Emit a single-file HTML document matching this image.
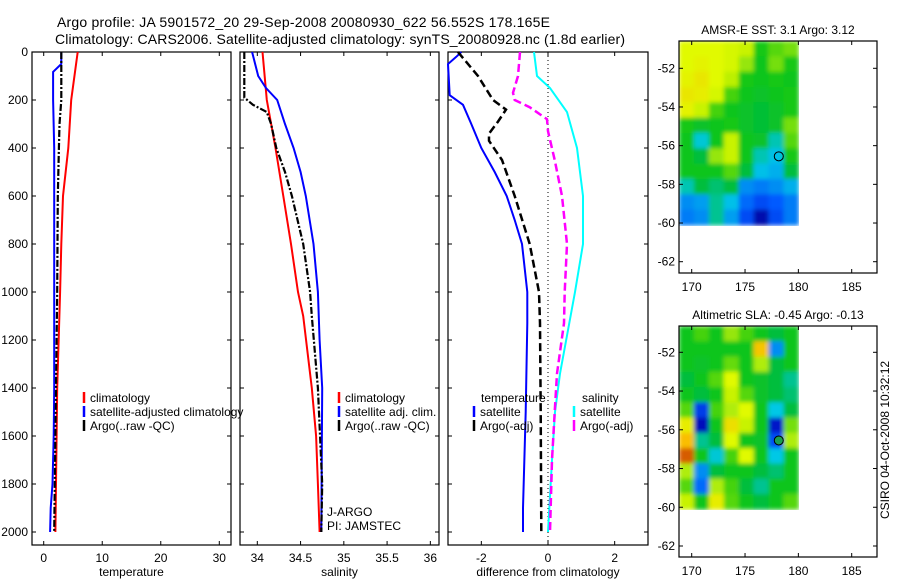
<!DOCTYPE html>
<html><head><meta charset="utf-8"><style>
html,body{margin:0;padding:0;background:#fff;}
svg{display:block;font-family:"Liberation Sans",sans-serif;}
</style></head><body>
<svg id="fig" width="900" height="580" xmlns="http://www.w3.org/2000/svg">
<defs>
<filter id="soft" x="0" y="0" width="1" height="1"><feGaussianBlur stdDeviation="2" edgeMode="duplicate"/></filter>
<clipPath id="clipSst"><rect x="679" y="41" width="120" height="185"/></clipPath>
<clipPath id="clipSla"><rect x="679" y="326" width="120" height="184"/></clipPath>
</defs>
<text x="57" y="27" font-size="14" textLength="493">Argo profile: JA 5901572_20 29-Sep-2008 20080930_622 56.552S 178.165E</text>
<text x="55" y="44" font-size="14" textLength="570">Climatology: CARS2006. Satellite-adjusted climatology: synTS_20080928.nc (1.8d earlier)</text>
</svg>
<script>
// ---------- data ----------
const depthTicks=[0,200,400,600,800,1000,1200,1400,1600,1800,2000];
const tempTicks=[0,10,20,30];
const salTicks=[34,34.5,35,35.5,36];
const diffTicks=[-2,0,2];
const lonTicks=[170,175,180,185];
const latTicks=[-52,-54,-56,-58,-60,-62];

const tClimD=[0,200,400,600,800,1000,1400,2000];
const tClimV=[5.8,4.7,4.2,3.3,3.0,2.8,2.3,2.0];
const tSatD=[0,50,83,200,400,1000,1400,1600,1800,1900,2000];
const tSatV=[3.0,3.0,1.6,1.6,1.8,1.8,1.8,1.7,1.5,1.2,1.1];
const tArgD=[0,200,300,400,600,1000,1400,2000];
const tArgV=[3.0,3.0,2.7,2.6,2.4,2.3,2.1,1.8];

const sClimD=[0,200,400,600,800,1000,1100,1400,1600,1800,2000];
const sClimV=[34.06,34.11,34.21,34.30,34.39,34.47,34.53,34.63,34.68,34.70,34.72];
const sSatD=[0,100,150,200,300,400,500,600,800,1000,1200,1400,2000];
const sSatV=[33.94,34.01,34.10,34.23,34.32,34.42,34.50,34.56,34.65,34.70,34.72,34.75,34.74];
const sArgD=[0,190,220,250,300,400,500,600,800,1000,1100,1400,1800,2000];
const sArgV=[33.85,33.85,33.95,34.11,34.16,34.22,34.32,34.40,34.53,34.61,34.63,34.70,34.75,34.74];

const dTSatD=[0,20,50,180,220,300,400,500,600,700,800,1000,1130,1500,1900,2000];
const dTSatV=[-2.6,-2.75,-3.0,-2.95,-2.55,-2.3,-2.0,-1.6,-1.24,-1.0,-0.78,-0.62,-0.62,-0.67,-0.75,-0.75];
const dTArgD=[0,100,200,240,290,340,370,450,600,800,1000,1130,1500,2000];
const dTArgV=[-2.7,-2.1,-1.65,-1.26,-1.5,-1.77,-1.77,-1.38,-1.0,-0.55,-0.27,-0.24,-0.22,-0.2];
const dSArgD=[0,100,170,200,230,280,330,450,600,800,1000,1130,1340,1500,1700,2000];
const dSArgV=[-0.84,-0.9,-1.05,-1.0,-0.55,-0.03,0,0.2,0.42,0.57,0.5,0.48,0.27,0.2,0.12,0.06];
const dSSatD=[0,100,150,250,400,600,800,1000,1340,1500,1700,2000];
const dSSatV=[-0.42,-0.33,0.06,0.57,0.87,1.05,1.05,0.81,0.36,0.21,0.12,0.0];

const sstGrid=[
[.66,.66,.66,.65,.64,.52,.56,.58],
[.66,.67,.66,.65,.6,.5,.58,.52],
[.67,.69,.66,.63,.52,.5,.52,.5],
[.69,.68,.65,.55,.5,.48,.5,.52],
[.67,.64,.55,.5,.48,.46,.48,.52],
[.52,.48,.5,.52,.48,.46,.48,.58],
[.5,.36,.5,.64,.5,.48,.38,.56],
[.5,.45,.6,.64,.5,.38,.34,.52],
[.5,.5,.5,.56,.45,.34,.32,.45],
[.38,.45,.42,.45,.28,.26,.28,.32],
[.28,.3,.4,.34,.24,.2,.22,.26],
[.26,.28,.4,.3,.2,.08,.2,.26]];
const slaGrid=[
[.5,.55,.5,.6,.55,.5,.45,.5],
[.5,.5,.5,.5,.5,.74,.28,.5],
[.5,.48,.5,.57,.5,.62,.45,.5],
[.45,.5,.56,.66,.5,.48,.45,.4],
[.5,.45,.5,.64,.56,.48,.45,.42],
[.56,.18,.55,.62,.66,.5,.35,.45],
[.68,.1,.5,.7,.64,.5,.12,.58],
[.75,.4,.45,.66,.5,.48,.2,.62],
[.84,.5,.36,.55,.66,.5,.35,.5],
[.62,.28,.45,.5,.5,.45,.42,.5],
[.56,.24,.62,.55,.45,.4,.5,.5],
[.64,.5,.68,.56,.5,.45,.5,.56]];
const floatLon=178.165, floatLat=-56.552;

// ---------- helpers ----------
const svg=document.getElementById('fig');
const NS='http://www.w3.org/2000/svg';
function mk(tag,at,parent){const e=document.createElementNS(NS,tag);for(const k in at)e.setAttribute(k,at[k]);(parent||svg).appendChild(e);return e;}
function txt(x,y,s,size,anchor,name){const t=mk('text',{x:x,y:y,'font-size':size,'text-anchor':anchor||'start'});t.textContent=s;


return t;}
function lin(x0,x1,v0,v1){return v=>x0+(v-v0)*(x1-x0)/(v1-v0);}
const yD=lin(52,532,0,2000);

function panel(name,L,R,xmin,xmax,ticks,fmt,xlabel,showY){
  const g=mk('g',{});
  
  
  const xs=lin(L,R,xmin,xmax);
  mk('rect',{x:L,y:52,width:R-L,height:493,fill:'none',stroke:'#000','stroke-width':1.2},g);
  ticks.forEach(t=>{const x=xs(t);
    mk('line',{x1:x,x2:x,y1:545,y2:541,stroke:'#000'},g);
    mk('line',{x1:x,x2:x,y1:52,y2:56,stroke:'#000'},g);
    txt(x,562,fmt(t),12,'middle','x-tick-label');});
  depthTicks.forEach(d=>{const y=yD(d);
    mk('line',{x1:L,x2:L+4,y1:y,y2:y,stroke:'#000'},g);
    mk('line',{x1:R,x2:R-4,y1:y,y2:y,stroke:'#000'},g);
    if(showY) txt(L-4,y+4,String(d),12,'end','y-tick-label');});
  txt((L+R)/2,576,xlabel,12,'middle','x-axis-title');
  return xs;
}
function series(xs,D,V,color,w,dash,name,xmin){
  let d='';D.forEach((dd,i)=>{d+=(i?'L':'M')+xs(Math.max(V[i],xmin)).toFixed(1)+','+yD(dd).toFixed(1);});
  const p=mk('path',{d:d,fill:'none',stroke:color,'stroke-width':w});
  if(dash)p.setAttribute('stroke-dasharray',dash);
  
  
}
function legendEntry(x,y,color,label,name){
  mk('line',{x1:x,x2:x,y1:y-6,y2:y+5,stroke:color,'stroke-width':2.5});
  txt(x+6,y+4,label,12,'start',name);
}

// panel 1: temperature
const xT=panel('temperature-panel',32,231,-2,32,tempTicks,String,'temperature',true);
series(xT,tClimD,tClimV,'#f00',2,null,'temp-climatology-line',-2);
series(xT,tSatD,tSatV,'#00f',2,null,'temp-satellite-line',-2);
series(xT,tArgD,tArgV,'#000',2.2,'7,2,2,2','temp-argo-line',-2);
legendEntry(84,398,'#f00','climatology','legend-climatology');
legendEntry(84,412,'#00f','satellite-adjusted climatology','legend-satellite');
legendEntry(84,426,'#000','Argo(..raw -QC)','legend-argo');
// panel 2: salinity
const xS=panel('salinity-panel',240,439,33.8,36.1,salTicks,String,'salinity',false);
series(xS,sClimD,sClimV,'#f00',2,null,'sal-climatology-line',33.8);
series(xS,sSatD,sSatV,'#00f',2,null,'sal-satellite-line',33.8);
series(xS,sArgD,sArgV,'#000',2.2,'7,2,2,2','sal-argo-line',33.8);
legendEntry(339,398,'#f00','climatology','legend-sal-climatology');
legendEntry(339,412,'#00f','satellite adj. clim.','legend-sal-satellite');
legendEntry(339,426,'#000','Argo(..raw -QC)','legend-sal-argo');
txt(327,516,'J-ARGO',12,'start','data-centre-label');
txt(327,530,'PI: JAMSTEC',12,'start','pi-label');
// panel 3: differences
const xDf=panel('difference-panel',448,648,-3,3,diffTicks,String,'difference from climatology',false);
mk('line',{x1:xDf(0),x2:xDf(0),y1:52,y2:545,stroke:'#000','stroke-width':1,'stroke-dasharray':'1,3'});
series(xDf,dTSatD,dTSatV,'#00f',2,null,'diff-temp-satellite-line',-3);
series(xDf,dTArgD,dTArgV,'#000',2.5,'8,4','diff-temp-argo-line',-3);
series(xDf,dSSatD,dSSatV,'#0ff',2,null,'diff-sal-satellite-line',-3);
series(xDf,dSArgD,dSArgV,'#f0f',2.5,'8,4','diff-sal-argo-line',-3);
txt(481,402,'temperature',12,'start','legend-temperature-header');
legendEntry(474,412,'#00f','satellite','legend-temp-satellite');
legendEntry(474,426,'#000','Argo(-adj)','legend-temp-argo');
txt(582,402,'salinity',12,'start','legend-salinity-header');
legendEntry(574,412,'#0ff','satellite','legend-sal-sat');
legendEntry(574,426,'#f0f','Argo(-adj)','legend-sal-argo-adj');

// maps
const cmapStops=[[0,[0,0,120]],[0.12,[0,20,200]],[0.22,[0,90,255]],[0.35,[0,200,230]],[0.45,[0,190,60]],[0.52,[20,200,20]],[0.6,[150,230,10]],[0.66,[225,250,0]],[0.75,[250,190,0]],[0.85,[210,80,0]],[1,[140,20,0]]];
function cmap(v){v=Math.max(0,Math.min(1,v));
  for(let i=1;i<cmapStops.length;i++){if(v<=cmapStops[i][0]){const a=cmapStops[i-1],b=cmapStops[i],f=(v-a[0])/(b[0]-a[0]);
    return 'rgb('+a[1].map((c,k)=>Math.round(c+(b[1][k]-c)*f)).join(',')+')';}}
  return 'rgb(140,20,0)';}
function map(name,top,bot,lat52,lat62,grid,title,dotFill,clip){
  const g=mk('g',{});
  
  
  const xl=lin(691.7,851.7,170,185), yl=lin(lat52,lat62,-52,-62);
  const imgL=679,imgR=xl(180),imgT=top,imgB=yl(-60.1);
  const rows=grid.length,cols=grid[0].length,cw=(imgR-imgL)/cols,ch=(imgB-imgT)/rows;
  const cg=mk('g',{'clip-path':'url(#'+clip+')'},g);
  const ig=mk('g',{filter:'url(#soft)'},cg);
  grid.forEach((row,i)=>row.forEach((v,j)=>{
    const r=mk('rect',{x:(imgL+j*cw).toFixed(2),y:(imgT+i*ch).toFixed(2),width:(cw+0.6).toFixed(2),height:(ch+0.6).toFixed(2),fill:cmap(v)},ig);
    
    }));
  mk('rect',{x:679,y:top,width:198,height:bot-top,fill:'none',stroke:'#000','stroke-width':1.2},g);
  lonTicks.forEach(t=>{const x=xl(t);
    mk('line',{x1:x,x2:x,y1:bot,y2:bot-4,stroke:'#000'},g);
    mk('line',{x1:x,x2:x,y1:top,y2:top+4,stroke:'#000'},g);
    txt(x,bot+18,String(t),12,'middle','map-lon-label');});
  latTicks.forEach(t=>{const y=yl(t);
    mk('line',{x1:679,x2:683,y1:y,y2:y,stroke:'#000'},g);
    mk('line',{x1:877,x2:873,y1:y,y2:y,stroke:'#000'},g);
    txt(675,y+4,String(t),12,'end','map-lat-label');});
  const c=mk('circle',{cx:xl(floatLon),cy:yl(floatLat),r:4.5,fill:dotFill,stroke:'#000','stroke-width':1},g);
  
  
  txt(778,top-7,title,12,'middle','map-title');
}
map('sst-map',41,273,68.3,261.7,sstGrid,'AMSR-E SST: 3.1 Argo: 3.12','none','clipSst');
map('sla-map',326,557,352.3,546,slaGrid,'Altimetric SLA: -0.45 Argo: -0.13','#1a9e50','clipSla');
const cs=txt(0,0,'CSIRO 04-Oct-2008 10:32:12',12,'middle','timestamp-label');
cs.setAttribute('transform','translate(889,440) rotate(-90)');
</script>
</body></html>
